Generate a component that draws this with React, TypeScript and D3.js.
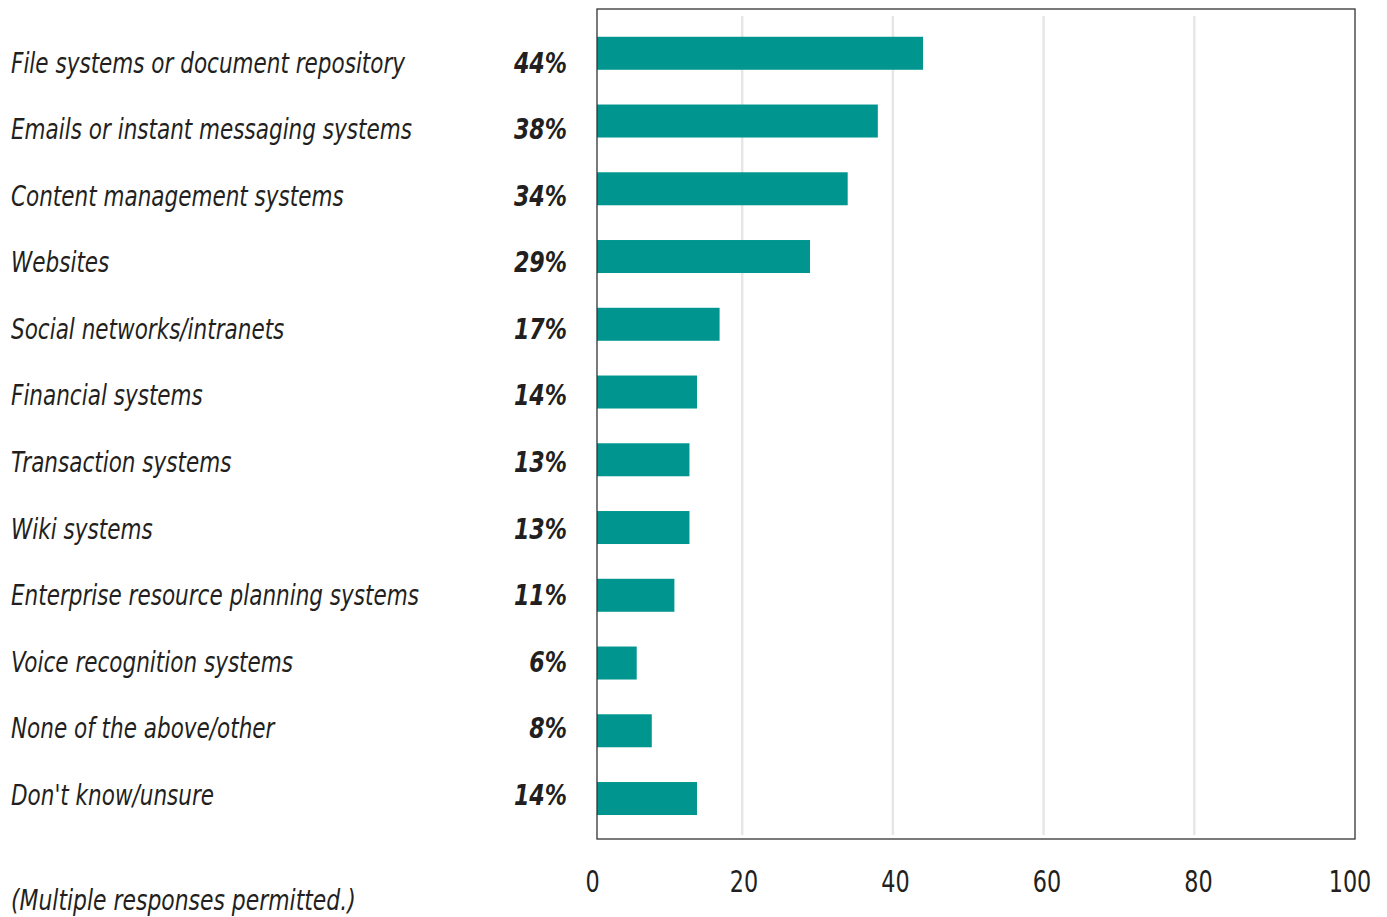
import React from "react";
import * as d3 from "d3";

const categories = [
  "File systems or document repository",
  "Emails or instant messaging systems",
  "Content management systems",
  "Websites",
  "Social networks/intranets",
  "Financial systems",
  "Transaction systems",
  "Wiki systems",
  "Enterprise resource planning systems",
  "Voice recognition systems",
  "None of the above/other",
  "Don't know/unsure",
];
const values = [44, 38, 34, 29, 17, 14, 13, 13, 11, 6, 8, 14];
const xTicks = [0, 20, 40, 60, 80, 100];
const gridTicks = [20, 40, 60, 80];
const footnote = "(Multiple responses permitted.)";

const W = 1387;
const H = 917;
const frame = { left: 597, right: 1355, top: 9, bottom: 839 };
const FONT = "'DejaVu Sans Condensed', 'DejaVu Sans', sans-serif";
const BAR = "#00968f";
const TEXT = "#231f20";

function SText({
  x,
  y,
  sx,
  children,
  ...rest
}: {
  x: number;
  y: number;
  sx: number;
  children: React.ReactNode;
  [k: string]: any;
}) {
  return (
    <text transform={`translate(${x},${y}) scale(${sx},1)`} {...rest}>
      {children}
    </text>
  );
}

export default function App() {
  const x = d3.scaleLinear().domain([0, 100]).range([591.5, 1345]);
  const y = d3
    .scaleBand<string>()
    .domain(categories)
    .range([19.4, 832.4])
    .paddingInner(0.513)
    .paddingOuter(0.2565);
  const yLabel = d3.scalePoint<string>().domain(categories).range([72.5, 805]);

  return (
    <svg
      width={W}
      height={H}
      style={{ position: "absolute", left: 0, top: 0, display: "block", background: "#fff" }}
      fontFamily={FONT}
    >
      {gridTicks.map((t) => (
        <line key={t} x1={x(t)} x2={x(t)} y1={16} y2={835} stroke="#e6e6e6" strokeWidth={2.5} />
      ))}
      {categories.map((c, i) => (
        <rect
          key={c}
          x={frame.left}
          y={y(c)!}
          width={Math.max(0, x(values[i]) - frame.left)}
          height={y.bandwidth()}
          fill={BAR}
        />
      ))}
      <rect
        x={frame.left}
        y={frame.top}
        width={frame.right - frame.left}
        height={frame.bottom - frame.top}
        fill="none"
        stroke="#333"
        strokeWidth={1.3}
      />
      {categories.map((c, i) => (
        <g key={c + "-lbl"}>
          <SText x={11} y={yLabel(c)!} sx={0.826} fontSize={29} fontStyle="italic" fill={TEXT}>
            {c}
          </SText>
          <SText
            x={567}
            y={yLabel(c)!}
            sx={0.85}
            fontSize={29}
            fontStyle="italic"
            fontWeight="bold"
            textAnchor="end"
            fill={TEXT}
          >
            {values[i]}%
          </SText>
        </g>
      ))}
      {xTicks.map((t) => (
        <SText key={t} x={x(t) + 1 + t * 0.04} y={892} sx={0.8} fontSize={31} textAnchor="middle" fill={TEXT}>
          {t}
        </SText>
      ))}
      <SText x={11} y={910} sx={0.84} fontSize={29} fontStyle="italic" fill={TEXT}>
        {footnote}
      </SText>
    </svg>
  );
}
